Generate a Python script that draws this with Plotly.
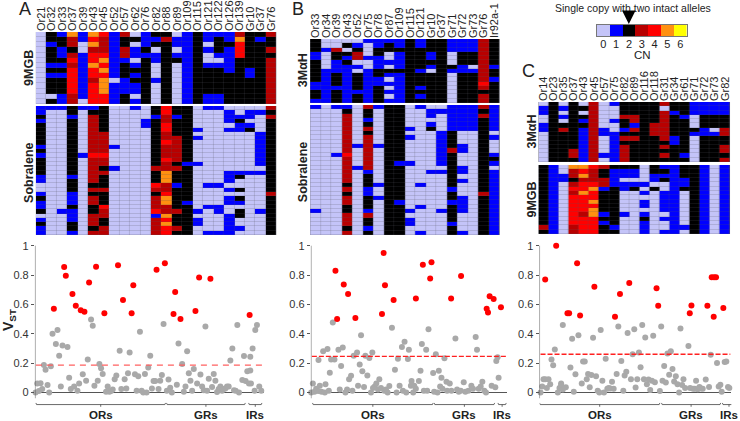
import numpy as np
import plotly.graph_objects as go

W, H = 740, 421
FONT = "Liberation Sans"
TEXT = "#222222"

CN_COLORS = ["#c4c4f8", "#0000ff", "#000000", "#b80000", "#ff0000", "#ff9010", "#ffff00"]
CN_TICKS = [0, 1, 2, 3, 4, 5, 6]

# one string per gene (column), one digit per row, spaces only to help counting
A_GENES = ["Or21", "Or32", "Or33", "Or37", "Or39", "Or43", "Or45", "Or52", "Or57", "Or62", "Or76", "Or82",
           "Or88", "Or89", "Or109", "Or115", "Or121", "Or122", "Or126", "Or139", "Gr10", "Gr37", "Gr76"]
A_9MGB = ["00000 00000 0000", "22122 21212 2202", "12211 21212 2211", "53323 43444 4433", "11001 11111 1110",
          "54534 45443 4444", "43334 54545 5544", "11111 11110 1111", "32233 12221 1122", "02011 01212 1101",
          "11121 22222 2222", "21201 10001 0000", "23222 22222 2222", "01101 20000 0000", "11111 11111 1111",
          "22222 22222 2222", "11010 01222 2211", "12221 01222 2211", "11211 11122 2222", "35444 22222 2222",
          "22222 22112 2222", "21222 22222 2222", "32232 33333 3333"]
A_SOBRALENE = ["11212 22221 21222 21100 12112 01211", "10000 00000 00000 00000 00000 00000",
               "10000 00000 00000 00000 00001 00000", "22122 22222 22222 21222 11121 11221",
               "10000 00000 01000 00000 00000 00000", "12333 33333 34333 33323 23322 33323",
               "22222 23333 34332 32223 22243 32233", "00000 00001 00001 00000 00000 00000",
               "00000 00000 00000 00000 00000 00000", "10000 00000 00000 00000 00000 00000",
               "00011 00000 00000 00000 00000 00000", "22122 22222 22223 22243 23334 13333",
               "44334 43343 33433 55533 45533 54544", "22122 22333 33323 22212 22223 22232",
               "22222 22222 22212 22222 22122 22222", "00000 10100 00010 00000 00001 01100",
               "10000 00000 00000 00010 00010 00001", "10000 00000 00000 00010 00011 00001",
               "01110 10000 00000 11101 01100 11111", "00121 10000 00000 12002 02102 20010",
               "01101 20000 00000 10000 00000 00000", "01000 01111 11110 10000 00001 00000",
               "32322 22222 22222 22222 32222 22222"]

B_GENES = ["Or33", "Or34", "Or39", "Or43", "Or52", "Or75", "Or78", "Or87", "Or109", "Or115", "Or121",
           "Gr10", "Gr37", "Gr71", "Gr72", "Gr73", "Gr76", "Ir92a-1"]
B_3MAH = ["22211 22222 11221", "00100 00111 11111", "00322 11122 21222", "02021 21111 11111", "01233 01022 22122",
          "10001 00111 11111", "11221 11221 12222", "12200 10210 10101", "11211 11211 11111", "22222 22222 22222",
          "11222 22122 21212", "22211 21022 22222", "22222 22222 22222", "11100 02100 00000", "11122 21122 22222",
          "11122 20122 22222", "33333 33333 43233", "22222 21221 22222"]
B_SOBRALENE = ["10000 00000 00000 00000 00001 00000", "00000 00000 00000 00000 00000 00000",
               "10000 00000 01000 00000 00000 00000", "12333 33333 34333 33323 23322 33323",
               "00000 00001 00001 00000 00000 00000", "32212 32333 33333 12221 12221 32212",
               "10000 00001 00000 00010 01000 00000", "22222 22222 22222 22222 22222 22222",
               "22222 22222 22212 22222 22122 22222", "00000 10100 00010 00000 00001 01100",
               "10000 00000 00000 00010 00010 00001", "01101 20000 00000 10000 00000 00000",
               "01000 01111 11110 10000 00001 00000", "11111 12222 32222 22221 22122 22122",
               "11111 10001 10001 10100 01111 00001", "11111 10000 00000 00000 00000 00000",
               "32322 22222 22222 22222 32222 22222", "11111 10100 01210 11111 11111 11111"]

C_GENES = ["Or14", "Or23", "Or35", "Or37", "Or43", "Or45", "Or57", "Or75", "Or82", "Or89", "Or116", "Or118",
           "Gr31", "Gr34", "Gr61", "Gr71", "Gr72", "Gr73", "Gr82"]
C_3MAH = ["01100 11000 0000", "22222 22222 2222", "01010 23222 2222", "22222 22222 2332", "02021 21111 1111",
          "33333 33333 3333", "00000 01100 0010", "10001 00111 1111", "22232 21232 3333", "22233 13232 2222",
          "22222 22222 2222", "22222 33322 2222", "30333 33332 3232", "22122 22211 2222", "22212 22222 2212",
          "11100 02100 0000", "11122 21122 2222", "11122 20122 2222", "11122 23322 3323"]
C_9MGB = ["22222 22222 22223 2", "11111 11111 11111 1", "00110 00000 00000 0", "53323 43444 44443 3",
          "54534 45444 43444 4", "43334 54454 55444 4", "32233 12222 21212 2", "21111 22222 22221 2",
          "21101 10000 01000 0", "21101 20000 00000 0", "00001 01011 01211 1", "22110 20000 00000 0",
          "12120 01111 10100 1", "11111 11111 11111 1", "22211 20000 00001 0", "22222 22222 22222 2",
          "11111 11111 11111 1", "00000 00000 00000 0", "11111 11111 11111 1"]

# Manhattan panels: gene position along the axis, VST
A_RED_POS = [159, 190, 195, 215, 225, 240, 251, 265, 286, 311, 352, 367, 398, 393, 468, 493, 524, 519, 540, 585, 596, 630, 748]
A_RED_VST = [.57, .855, .795, .67, .59, .56, .55, .75, .857, .54, .866, .63, .73, .54, .836, .88, .685, .534, .50, .555, .784, .775, .527]
A_GRAY_POS = [104, 109, 119, 114, 124, 129, 134, 150, 140, 145, 155, 170, 165, 175, 180, 185, 200, 205, 210, 220, 230, 235,
              246, 256, 261, 271, 276, 281, 291, 296, 301, 306, 316, 321, 326, 331, 336, 342, 347, 357, 362, 372, 377, 382,
              387, 403, 408, 413, 418, 423, 428, 433, 438, 443, 449, 454, 459, 464, 474, 479, 484, 489, 499, 504, 509, 514,
              529, 534, 545, 550, 555, 560, 565, 570, 575, 580, 590, 600, 605, 610, 615, 620, 625, 635, 640, 645, 650, 655,
              660, 665, 670, 675, 680, 685, 690, 696, 701, 706, 711, 716, 726, 731, 736, 741, 746, 770, 765, 757, 750, 750,
              752, 763, 777, 783]
A_GRAY_VST = [0, .06, .063, .01, .023, .186, .155, .178, .05, 0, .40, .425, .33, .25, .04, .32, .31, .1, .023, .04, .012, .06,
              .123, .08, .225, .497, .455, .045, .08, .193, .164, .125, .005, .04, .005, .01, .02, .09, .115, .284, .023, .09,
              .027, .13, .272, .123, .012, .11, .414, .012, 0, .125, 0, .17, .25, .027, .077, .077, .023, .08, .118, .466, .012,
              .088, .032, 0, .052, .334, .193, .005, .04, .28, .13, .08, .012, .16, .06, .122, .04, .014, .45, .012, .093, .036,
              .125, .08, .002, .023, .04, .012, .023, .027, .04, .04, .218, .30, .014, .012, .46, 0, .084, .248, .077, .145, .06,
              .46, .425, .30, .243, .15, .06, .012, .04, .012]

B_RED_POS = [256, 261, 281, 294, 316, 396, 401, 405, 431, 498, 519, 541, 545, 604, 634, 711, 715, 720, 732, 754]
B_RED_VST = [.83, .50, .735, .67, .507, .535, .95, .73, .63, .64, .87, .777, .888, .64, .793, .57, .545, .655, .637, .58]
B_GRAY_POS = [183, 188, 193, 198, 204, 205, 209, 214, 219, 224, 226, 232, 236, 239, 243, 248, 253, 265, 269, 273, 278, 286,
              291, 297, 303, 307, 311, 321, 324, 329, 333, 337, 342, 346, 352, 358, 363, 367, 369, 374, 379, 384, 388, 393,
              403, 408, 413, 418, 426, 435, 440, 444, 449, 456, 459, 464, 469, 474, 477, 483, 485, 490, 493, 498, 507, 512,
              516, 522, 529, 536, 532, 550, 558, 553, 563, 567, 571, 575, 584, 578, 590, 592, 600, 605, 617, 622, 627, 642,
              633, 647, 656, 665, 670, 678, 682, 687, 693, 698, 704, 709, 726, 737, 740, 744, 747]
B_GRAY_VST = [0, .06, .005, .025, .01, .22, .045, .005, .28, 0, .056, .295, .012, .134, .225, .477, .225, .29, .02, .18, .306,
              0, .02, .09, .114, .012, .25, .272, .045, .19, .39, .145, .036, .25, .115, .235, 0, .272, .03, .04, .06, .02, .09,
              .03, .012, .02, 0, .043, .44, .155, 0, .23, .045, .31, .012, .345, 0, .227, .29, .045, .077, 0, .045, .025, .077,
              .148, .33, .012, .29, .43, .012, .132, .26, .005, 0, .148, .04, .1, .232, .025, .073, .012, .06, .012, .367, .02,
              .005, .07, .012, .005, .012, .045, .025, .377, .29, .025, .04, .073, .012, 0, .045, .035, .214, .24, .1]

C_RED_POS = [137, 170, 204, 209, 233, 242, 285, 347, 362, 390, 472, 477, 572, 577, 625, 644, 638, 645, 651, 673]
C_RED_VST = [.77, 1.0, .54, .54, .88, .525, .72, .515, .67, .745, .71, .59, .54, .593, .59, .516, .785, .785, .785, .575]
C_GRAY_POS = [123, 128, 132, 137, 142, 147, 152, 156, 161, 166, 175, 180, 185, 190, 190, 199, 185, 213, 218, 223, 228, 237,
              247, 251, 256, 262, 266, 271, 276, 281, 290, 295, 300, 304, 309, 314, 319, 324, 328, 333, 338, 343, 352, 357,
              366, 372, 376, 381, 385, 395, 400, 405, 409, 414, 419, 424, 429, 434, 438, 443, 448, 453, 458, 462, 467, 482,
              486, 490, 495, 500, 505, 510, 515, 520, 525, 530, 535, 540, 544, 549, 553, 558, 568, 573, 582, 587, 591, 596,
              601, 606, 611, 620, 630, 635, 654, 659, 664, 668, 677, 682, 687, 691]
C_GRAY_VST = [0, .04, .09, .09, .03, .09, .056, .225, .185, .293, 0, .03, .06, .46, .02, .035, .05, .17, .366, .005, .123, .39,
              .06, .21, .21, .09, .125, .035, .118, .373, .11, .012, 0, .425, .08, 0, .23, .025, .03, .027, .073, .025, .125, .45,
              .214, .012, .116, .14, .405, .09, .26, .43, .034, .09, .272, .172, .46, .09, .375, .056, .088, .016, .08, .386, .07,
              .01, .45, .08, .18, .068, .265, .12, .28, .16, .075, .11, .056, 0, .435, .05, .09, .03, .316, .03, .025, .025, .08,
              .022, .036, .027, .025, .088, .036, .257, .2, .04, .052, .005, .207, .21, .036, .03]

A_THRESHOLD, B_THRESHOLD, C_THRESHOLD = .186, .246, .26


def matrix(columns):
    rows = [c.replace(" ", "") for c in columns]
    return np.array([[int(ch) for ch in r] for r in rows]).T


def step_scale(colors):
    scale = []
    for i, c in enumerate(colors):
        scale.append([i / len(colors), c])
        scale.append([(i + 1) / len(colors), c])
    return scale


def px_x(x):
    return x / W


def px_y(y):
    return 1 - y / H


fig = go.Figure()
axis_no = [0]


def heat(columns, genes, x0, x1, y0, y1, labels=True):
    axis_no[0] += 1
    n = axis_no[0]
    z = matrix(columns)
    # grey backing shows through the thin gaps between the cells
    fig.add_shape(type="rect", xref="paper", yref="paper", x0=px_x(x0), x1=px_x(x1), y0=px_y(y1), y1=px_y(y0),
                  fillcolor="#55555f", line=dict(width=0), layer="below")
    fig.add_trace(go.Heatmap(z=z, x=genes, y=list(range(z.shape[0])), xaxis=f"x{n}", yaxis=f"y{n}",
                             colorscale=step_scale(CN_COLORS), zmin=-.5, zmax=6.5, showscale=False,
                             xgap=.2, ygap=.2, hoverinfo="skip"))
    fig.update_layout({
        f"xaxis{n}": dict(domain=[px_x(x0), px_x(x1)], anchor=f"y{n}", side="top", type="category",
                          tickmode="array", tickvals=genes, ticktext=genes,
                          showticklabels=labels, tickangle=-90, ticklen=0, showgrid=False,
                          tickfont=dict(family=FONT, size=11, color=TEXT)),
        f"yaxis{n}": dict(domain=[px_y(y1), px_y(y0)], anchor=f"x{n}", autorange="reversed",
                          showticklabels=False, ticklen=0, showgrid=False, zeroline=False),
    })


def manhattan(red_pos, red_vst, gray_pos, gray_vst, thr, thr_color, dash, z0, z1, x0, x1, brackets):
    axis_no[0] += 1
    n = axis_no[0]
    fig.add_trace(go.Scatter(x=gray_pos, y=gray_vst, mode="markers", xaxis=f"x{n}", yaxis=f"y{n}",
                             marker=dict(color="#a9a9a9", size=6), cliponaxis=False, hoverinfo="skip"))
    fig.add_trace(go.Scatter(x=red_pos, y=red_vst, mode="markers", xaxis=f"x{n}", yaxis=f"y{n}",
                             marker=dict(color="#ff0000", size=6), cliponaxis=False, hoverinfo="skip"))
    fig.update_layout({
        f"xaxis{n}": dict(domain=[px_x(x0), px_x(x1)], range=[z0, z1], anchor=f"y{n}", visible=False),
        f"yaxis{n}": dict(domain=[0, px_y(235)], range=[-.195, 1.073], anchor=f"x{n}", showgrid=False,
                          zeroline=True, zerolinecolor="#555555", zerolinewidth=1, ticks="outside", ticklen=3,
                          tickcolor="#555555", tickvals=[0, .2, .4, .6, .8, 1],
                          ticktext=["0", "0.2", "0.4", "0.6", "0.8", "1"],
                          tickfont=dict(family=FONT, size=11, color="#333333")),
    })
    xr, yr = f"x{n}", f"y{n}"
    fig.add_shape(type="line", xref=xr, yref=yr, x0=z0, x1=z0, y0=-.04, y1=1, line=dict(color="#555555", width=1))
    fig.add_shape(type="line", xref=xr, yref=yr, x0=z0 + 3, x1=z1 - 3, y0=thr, y1=thr,
                  line=dict(color=thr_color, width=1.3, dash=dash))
    for name, b0, b1 in brackets:
        mid = (b0 + b1) / 2
        fig.add_shape(type="path", xref=xr, yref=yr, line=dict(color="#444444", width=.8),
                      path=f"M {b0} -.072 L {b0 + 2} -.083 L {b1 - 2} -.083 L {b1} -.072 "
                           f"M {mid} -.083 L {mid} -.098")
        fig.add_annotation(xref=xr, yref=yr, x=mid, y=-.153, text=f"<b>{name}</b>", showarrow=False, borderpad=0,
                           xanchor="center", yanchor="middle", font=dict(family=FONT, size=11.5, color=TEXT))


def text(x, y, s, size=11.5, angle=0, bold=False):
    fig.add_annotation(xref="paper", yref="paper", x=px_x(x), y=px_y(y), text=f"<b>{s}</b>" if bold else s,
                       xanchor="center", yanchor="middle", showarrow=False, textangle=angle,
                       font=dict(family=FONT, size=size, color=TEXT))


heat(A_9MGB, A_GENES, 35, 276, 32, 104)
heat(A_SOBRALENE, A_GENES, 35, 276, 106, 235, labels=False)
heat(B_3MAH, B_GENES, 310, 500, 39, 103)
heat(B_SOBRALENE, B_GENES, 310, 500, 105, 235, labels=False)
heat(C_3MAH, C_GENES, 539, 731, 102, 162)
heat(C_9MGB, C_GENES, 539, 731, 165, 234, labels=False)

manhattan(A_RED_POS, A_RED_VST, A_GRAY_POS, A_GRAY_VST, A_THRESHOLD, "#ff6060", "6px,5px", 102, 790, 34, 263.3,
          [("ORs", 105, 495), ("GRs", 498, 735), ("IRs", 745, 785)])
manhattan(B_RED_POS, B_RED_VST, B_GRAY_POS, B_GRAY_VST, B_THRESHOLD, "#ff2020", "5px,2px", 182, 772, 310.7, 507.3,
          [("ORs", 187, 550), ("GRs", 553, 735), ("IRs", 745, 770)])
manhattan(C_RED_POS, C_RED_VST, C_GRAY_POS, C_GRAY_VST, C_THRESHOLD, "#ff2020", "5px,2px", 120, 697, 540, 732.3,
          [("ORs", 120, 482), ("GRs", 487, 665), ("IRs", 670, 710)])

# copy number key
axis_no[0] += 1
n = axis_no[0]
fig.add_trace(go.Heatmap(z=[CN_TICKS], x=CN_TICKS, xaxis=f"x{n}", yaxis=f"y{n}", colorscale=step_scale(CN_COLORS),
                         zmin=-.5, zmax=6.5, showscale=False, hoverinfo="skip"))
fig.update_layout({
    f"xaxis{n}": dict(domain=[px_x(597.5), px_x(687.5)], anchor=f"y{n}", tickvals=CN_TICKS, ticklen=0, showgrid=False,
                      showline=True, linecolor="#777777", mirror=True, zeroline=False, ticklabelstandoff=-2,
                      tickfont=dict(family=FONT, size=11, color=TEXT)),
    f"yaxis{n}": dict(domain=[px_y(36), px_y(25)], anchor=f"x{n}", showticklabels=False, ticklen=0, showgrid=False,
                      showline=True, linecolor="#777777", mirror=True, zeroline=False),
})
text(634, 8, "Single copy with two intact alleles", size=10.5)
text(643, 55, "CN", size=11.5)
fig.add_annotation(xref="paper", yref="paper", x=px_x(629.5), y=px_y(24), ax=0, ay=-10, text="", showarrow=True,
                   arrowhead=2, arrowsize=.9, arrowwidth=3, arrowcolor="#000000", standoff=0)

text(24, 9, "A", size=18)
text(298, 9, "B", size=18)
text(529, 71, "C", size=18)
text(28, 68, "9MGB", size=12.5, angle=-90, bold=True)
text(28, 173, "Sobralene", size=12.5, angle=-90, bold=True)
text(303, 70, "3MαH", size=12.5, angle=-90, bold=True)
text(303, 172, "Sobralene", size=12.5, angle=-90, bold=True)
text(532, 132, "3MαH", size=12.5, angle=-90, bold=True)
text(532, 200, "9MGB", size=12.5, angle=-90, bold=True)
text(8, 320, "V<sub>ST</sub>", size=14, angle=-90, bold=True)

fig.update_layout(width=W, height=H, margin=dict(l=0, r=0, t=0, b=0), showlegend=False,
                  paper_bgcolor="white", plot_bgcolor="white", font=dict(family=FONT))
fig.write_html("out.html", config={"displayModeBar": False}, post_script="document.body.style.margin='0';")
